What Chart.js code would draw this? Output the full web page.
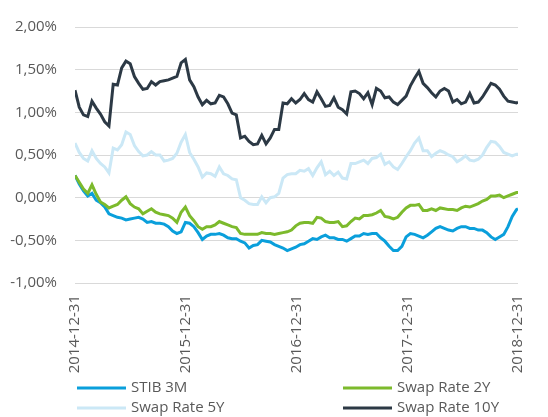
<!DOCTYPE html>
<html><head><meta charset="utf-8">
<script src="https://cdn.jsdelivr.net/npm/chart.js@4.4.1/dist/chart.umd.min.js"></script>
<style>html,body{margin:0;padding:0;background:#fff}#wrap{width:548px;height:417px;position:relative}</style>
</head><body><div id="wrap"><canvas id="c" width="548" height="417"></canvas></div>
<script>
// days since 2014-12-31
const days=[0,14,28,42,56,70,84,98,112,126,140,154,168,182,196,210,224,238,252,266,280,294,308,322,336,350,364,378,392,406,420,434,448,462,476,490,504,518,532,546,560,574,588,602,616,630,644,658,672,686,700,714,728,742,756,770,784,798,812,826,840,854,868,882,896,910,924,938,952,966,980,994,1008,1022,1036,1050,1064,1078,1092,1106,1120,1134,1148,1162,1176,1190,1204,1218,1232,1246,1260,1274,1288,1302,1316,1330,1344,1358,1372,1386,1400,1414,1428,1442,1456,1461];
const xTickDays=[0,365,731,1096,1461];
const xTickLabels=['2014-12-31','2015-12-31','2016-12-31','2017-12-31','2018-12-31'];
const seriesNames=['STIB 3M','Swap Rate 2Y','Swap Rate 5Y','Swap Rate 10Y'];
const stib3m=[0.26,0.16,0.08,0.02,0.05,-0.03,-0.06,-0.11,-0.19,-0.21,-0.23,-0.24,-0.26,-0.25,-0.24,-0.23,-0.25,-0.29,-0.28,-0.30,-0.30,-0.31,-0.34,-0.39,-0.42,-0.40,-0.29,-0.30,-0.34,-0.41,-0.49,-0.45,-0.43,-0.43,-0.42,-0.44,-0.47,-0.48,-0.48,-0.51,-0.53,-0.59,-0.56,-0.55,-0.50,-0.51,-0.52,-0.55,-0.57,-0.59,-0.62,-0.60,-0.58,-0.55,-0.54,-0.51,-0.48,-0.49,-0.46,-0.44,-0.47,-0.47,-0.49,-0.49,-0.51,-0.48,-0.45,-0.45,-0.42,-0.43,-0.42,-0.42,-0.47,-0.51,-0.57,-0.62,-0.62,-0.57,-0.46,-0.42,-0.43,-0.45,-0.47,-0.44,-0.40,-0.36,-0.34,-0.36,-0.38,-0.39,-0.36,-0.34,-0.34,-0.36,-0.36,-0.38,-0.38,-0.41,-0.46,-0.49,-0.46,-0.43,-0.34,-0.22,-0.14,-0.13];
const swap2y=[0.26,0.18,0.10,0.05,0.15,0.04,-0.05,-0.08,-0.12,-0.10,-0.08,-0.03,0.01,-0.07,-0.11,-0.13,-0.19,-0.16,-0.13,-0.17,-0.19,-0.20,-0.21,-0.24,-0.29,-0.17,-0.11,-0.21,-0.27,-0.34,-0.37,-0.34,-0.34,-0.32,-0.28,-0.30,-0.32,-0.34,-0.35,-0.42,-0.43,-0.43,-0.43,-0.43,-0.41,-0.42,-0.42,-0.43,-0.42,-0.41,-0.40,-0.38,-0.33,-0.30,-0.29,-0.29,-0.30,-0.23,-0.24,-0.28,-0.29,-0.29,-0.28,-0.34,-0.33,-0.28,-0.24,-0.25,-0.21,-0.21,-0.20,-0.18,-0.15,-0.22,-0.23,-0.25,-0.23,-0.17,-0.12,-0.09,-0.09,-0.08,-0.15,-0.15,-0.13,-0.15,-0.12,-0.13,-0.14,-0.14,-0.15,-0.12,-0.10,-0.11,-0.09,-0.07,-0.04,-0.02,0.02,0.02,0.03,0.00,0.02,0.04,0.06,0.06];
const swap5y=[0.64,0.53,0.46,0.43,0.55,0.46,0.40,0.36,0.29,0.58,0.56,0.62,0.77,0.74,0.61,0.54,0.49,0.50,0.54,0.50,0.50,0.43,0.44,0.46,0.52,0.65,0.74,0.53,0.45,0.36,0.24,0.29,0.28,0.25,0.36,0.28,0.26,0.22,0.21,0.00,-0.03,-0.07,-0.08,-0.08,0.01,-0.06,0.00,0.01,0.05,0.23,0.27,0.28,0.28,0.32,0.31,0.34,0.26,0.35,0.42,0.27,0.31,0.26,0.30,0.23,0.22,0.40,0.40,0.42,0.44,0.40,0.46,0.47,0.51,0.39,0.42,0.36,0.33,0.40,0.48,0.55,0.64,0.70,0.55,0.55,0.48,0.52,0.55,0.53,0.50,0.48,0.42,0.45,0.49,0.44,0.43,0.45,0.50,0.59,0.66,0.65,0.60,0.53,0.51,0.49,0.51,0.51];
const swap10y=[1.26,1.06,0.97,0.95,1.13,1.05,0.98,0.89,0.84,1.33,1.32,1.52,1.60,1.57,1.42,1.34,1.27,1.28,1.36,1.32,1.36,1.37,1.38,1.40,1.42,1.58,1.62,1.38,1.30,1.18,1.09,1.14,1.10,1.11,1.20,1.18,1.10,0.99,0.97,0.70,0.72,0.66,0.62,0.63,0.73,0.63,0.70,0.80,0.80,1.11,1.10,1.16,1.11,1.15,1.22,1.15,1.12,1.24,1.16,1.07,1.08,1.17,1.06,1.03,0.98,1.24,1.25,1.22,1.16,1.23,1.09,1.28,1.25,1.17,1.18,1.12,1.09,1.14,1.19,1.31,1.40,1.48,1.34,1.29,1.23,1.18,1.25,1.28,1.25,1.12,1.15,1.10,1.12,1.22,1.11,1.12,1.18,1.26,1.34,1.32,1.27,1.19,1.13,1.12,1.11,1.12];
const colors=['#0a9fdb','#7cba2c','#cbe8f6','#2c3945'];
const FONT='"Open Sans", sans-serif';
const TXT='#595959';

const allSeries=[stib3m,swap2y,swap5y,swap10y];
const datasets=allSeries.map((vals,k)=>({
  label:seriesNames[k],
  data:days.map((d,i)=>({x:d,y:vals[i]})),
  borderColor:colors[k],
  backgroundColor:colors[k],
  borderWidth:3,
  pointRadius:0,
  tension:0,
  order:3-k
}));

const legendPlugin={
  id:'gridLegend',
  afterDraw(chart){
    const ctx=chart.ctx;
    const pos=[[77,388],[343,388],[77,408],[343,408]];
    ctx.save();
    ctx.font='15px '+FONT;
    ctx.textBaseline='middle';
    ctx.textAlign='left';
    pos.forEach((p,k)=>{
      ctx.strokeStyle=colors[k];
      ctx.lineWidth=3;
      ctx.beginPath();ctx.moveTo(p[0],p[1]);ctx.lineTo(p[0]+49,p[1]);ctx.stroke();
      ctx.fillStyle=TXT;
      ctx.fillText(seriesNames[k],p[0]+54,p[1]);
    });
    ctx.restore();
  }
};

new Chart(document.getElementById('c'),{
  type:'line',
  data:{datasets},
  options:{
    responsive:false,
    animation:false,
    devicePixelRatio:1,
    layout:{padding:{top:19,right:6,left:0,bottom:0}},
    plugins:{legend:{display:false},tooltip:{enabled:false}},
    scales:{
      x:{
        type:'linear',min:0,max:1461,
        afterBuildTicks(s){s.ticks=xTickDays.map(v=>({value:v}));},
        afterFit(s){s.height=134;},
        grid:{display:false,drawTicks:false},
        border:{display:false},
        ticks:{
          color:TXT,font:{family:FONT,size:15},
          minRotation:90,maxRotation:90,padding:12,autoSkip:false,
          callback(v){const i=xTickDays.indexOf(v);return i>=0?xTickLabels[i]:'';}
        }
      },
      y:{
        min:-1,max:2,
        afterFit(s){s.width=75;},
        grid:{color:'#d9d9d9',lineWidth:1,drawTicks:false},
        border:{display:false},
        ticks:{
          stepSize:0.5,color:TXT,font:{family:FONT,size:15},padding:18,
          callback(v){return v.toFixed(2).replace('.',',')+'%';}
        }
      }
    }
  },
  plugins:[legendPlugin]
});
</script></body></html>
